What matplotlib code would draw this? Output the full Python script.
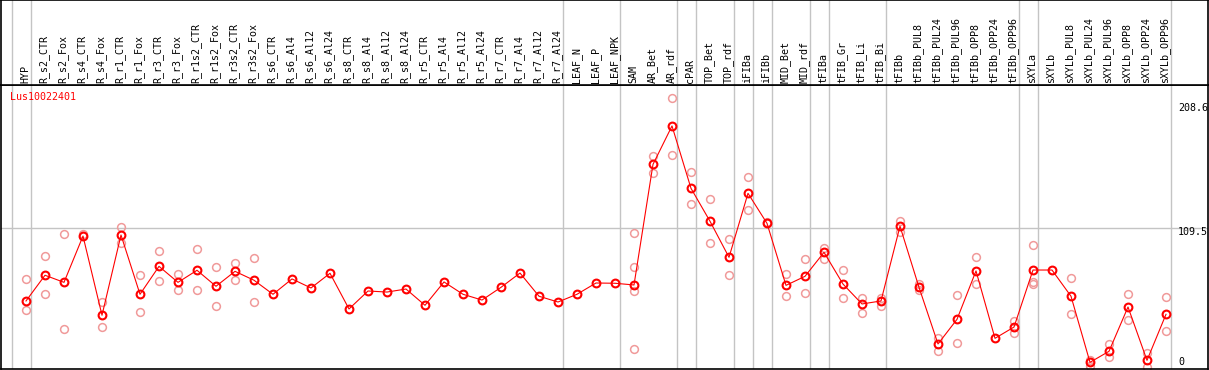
import numpy as np
import matplotlib
matplotlib.use("Agg")
import matplotlib.pyplot as plt

# ---------------- data ----------------
categories = [
    "HYP", "R_s2_CTR", "R_s2_Fox", "R_s4_CTR", "R_s4_Fox", "R_r1_CTR", "R_r1_Fox",
    "R_r3_CTR", "R_r3_Fox", "R_r1s2_CTR", "R_r1s2_Fox", "R_r3s2_CTR", "R_r3s2_Fox",
    "R_s6_CTR", "R_s6_Al4", "R_s6_Al12", "R_s6_Al24", "R_s8_CTR", "R_s8_Al4",
    "R_s8_Al12", "R_s8_Al24", "R_r5_CTR", "R_r5_Al4", "R_r5_Al12", "R_r5_Al24",
    "R_r7_CTR", "R_r7_Al4", "R_r7_Al12", "R_r7_Al24", "LEAF_N", "LEAF_P", "LEAF_NPK",
    "SAM", "AR_Bet", "AR_rdf", "cPAR", "TOP_Bet", "TOP_rdf", "iFIBa", "iFIBb",
    "MID_Bet", "MID_rdf", "tFIBa", "tFIB_Gr", "tFIB_Li", "tFIB_Bi", "tFIBb",
    "tFIBb_PUL8", "tFIBb_PUL24", "tFIBb_PUL96", "tFIBb_OPP8", "tFIBb_OPP24",
    "tFIBb_OPP96", "sXYLa", "sXYLb", "sXYLb_PUL8", "sXYLb_PUL24", "sXYLb_PUL96",
    "sXYLb_OPP8", "sXYLb_OPP24", "sXYLb_OPP96",
]

mean_values = [
    54.0, 73.6, 68.2, 103.5, 43.1, 104.3, 59.1, 80.4, 68.2, 77.4, 65.2, 76.6, 69.8,
    59.1, 70.8, 63.9, 75.1, 47.9, 61.6, 60.8, 63.1, 50.7, 68.5, 59.1, 54.7, 64.4,
    75.3, 57.6, 53.2, 59.1, 67.7, 67.5,
    66.2, 158.2, 187.5, 139.9, 114.8, 87.3, 136.1, 113.2, 65.9, 72.8, 91.1, 66.9,
    51.7, 54.0, 111.0, 64.4, 21.2, 40.0, 76.9, 25.5, 34.1, 77.6, 77.6, 57.6, 7.2,
    15.6, 49.4, 8.7, 43.8,
]

nan = np.nan
rep1 = [70.5, 88.1, 104.8, 104.8, 53.0, 110.2, 73.6, 91.9, 74.3, 93.4, 79.7, 82.7, 86.5,
        nan, nan, nan, nan, nan, nan, nan, nan, nan, nan, nan, nan, nan, nan, nan, nan, nan, nan, nan,
        105.6, 164.3, 208.6, 152.4, 131.8, 101.0, 148.3, 114.0, 74.6, 85.8, 94.2, 77.4,
        56.0, 56.0, 115.2, 66.7, 26.0, 58.3, 87.3, nan, 38.9, 96.5, nan, 71.3, 9.0,
        21.2, 59.1, 14.5, 56.8]
rep2 = [46.9, 59.1, 32.4, nan, 33.9, 98.0, 45.3, 69.0, 62.1, 62.1, 49.9, 69.8, 53.0,
        nan, nan, nan, nan, nan, nan, nan, nan, nan, nan, nan, nan, nan, nan, nan, nan, nan, nan, nan,
        79.9, 151.6, 165.1, 127.7, 98.0, 73.6, 123.2, nan, 57.6, 59.8, 85.8, 56.0,
        44.6, 50.2, 106.8, 62.4, 16.1, 21.9, 66.7, nan, 29.8, 68.2, nan, 43.8, 4.6,
        11.0, 39.5, 3.4, 30.9]
rep3 = [nan] * 32 + [61.6] + [nan] * 20 + [67.2] + [nan] * 7
rep4 = [nan] * 32 + [17.4] + [nan] * 28

group_ends = [-1, 0, 28, 31, 34, 35, 37, 38, 39, 41, 42, 45, 52, 53, 60]
gene_id = "Lus10022401"
ref_value = 109.5
axis_labels = ["208.6", "109.5", "0"]

# ---------------- layout ----------------
W, H = 1209, 370
fig = plt.figure(figsize=(W / 100, H / 100), dpi=100)
fig.patch.set_facecolor("white")

plot_top, plot_bot = 85, 369
x_left, x_right = 1, 1208
x0_pix, step = 26, 19

def xl(p):
    return (p - x0_pix) / step

k = 1.311
def val(ypix):
    return ref_value + (228.2 - ypix) / k

xlim = (xl(x_left), xl(x_right))
ax = fig.add_axes([x_left / W, (H - plot_bot) / H, (x_right - x_left) / W,
                   (plot_bot - plot_top) / H])
hax = fig.add_axes([x_left / W, (H - plot_top) / H, (x_right - x_left) / W,
                    plot_top / H])

mono = "DejaVu Sans Mono"
fs = 7.2
gray = "#c4c4c4"

for a in (ax, hax):
    a.set_xlim(*xlim)
    a.set_xticks([])
    a.set_yticks([])
    for s in a.spines.values():
        s.set_color("black")
        s.set_linewidth(1.2)
    for g in group_ends:
        a.axvline(g + 5 / step, color=gray, lw=1.0, zorder=0)

ax.set_ylim(val(plot_bot), val(plot_top))
hax.set_ylim(0, 1)

ax.axhline(ref_value, color=gray, lw=1.0, zorder=0)

x = np.arange(len(categories))
faint = "#f09a9a"
for rep in (rep1, rep2, rep3, rep4):
    ax.plot(x, rep, linestyle="none", marker="o", ms=5.6, mfc="none",
            mec=faint, mew=1.1, zorder=2)
ax.plot(x, mean_values, color="#ff0000", lw=0.8, marker="o", ms=5.6,
        mfc="none", mec="#ff0000", mew=1.5, zorder=3)

# category labels in header
for i, c in enumerate(categories):
    hax.text(i - 0.05, 2 / plot_top, c, rotation=90, ha="center", va="bottom",
             family=mono, fontsize=fs, color="black")

# gene id
ax.text((10 - x_left) / (x_right - x_left), (plot_bot - 97) / (plot_bot - plot_top),
        gene_id, transform=ax.transAxes, family=mono, fontsize=fs, color="#ff0000",
        ha="left", va="center")

# right axis labels
for lab, yp in zip(axis_labels, [108, 232, 362]):
    ax.text((1178 - x_left) / (x_right - x_left), (plot_bot - yp) / (plot_bot - plot_top),
            lab, transform=ax.transAxes, family=mono, fontsize=fs, color="black",
            ha="left", va="center")

fig.savefig("out.png", dpi=100, facecolor="white")
